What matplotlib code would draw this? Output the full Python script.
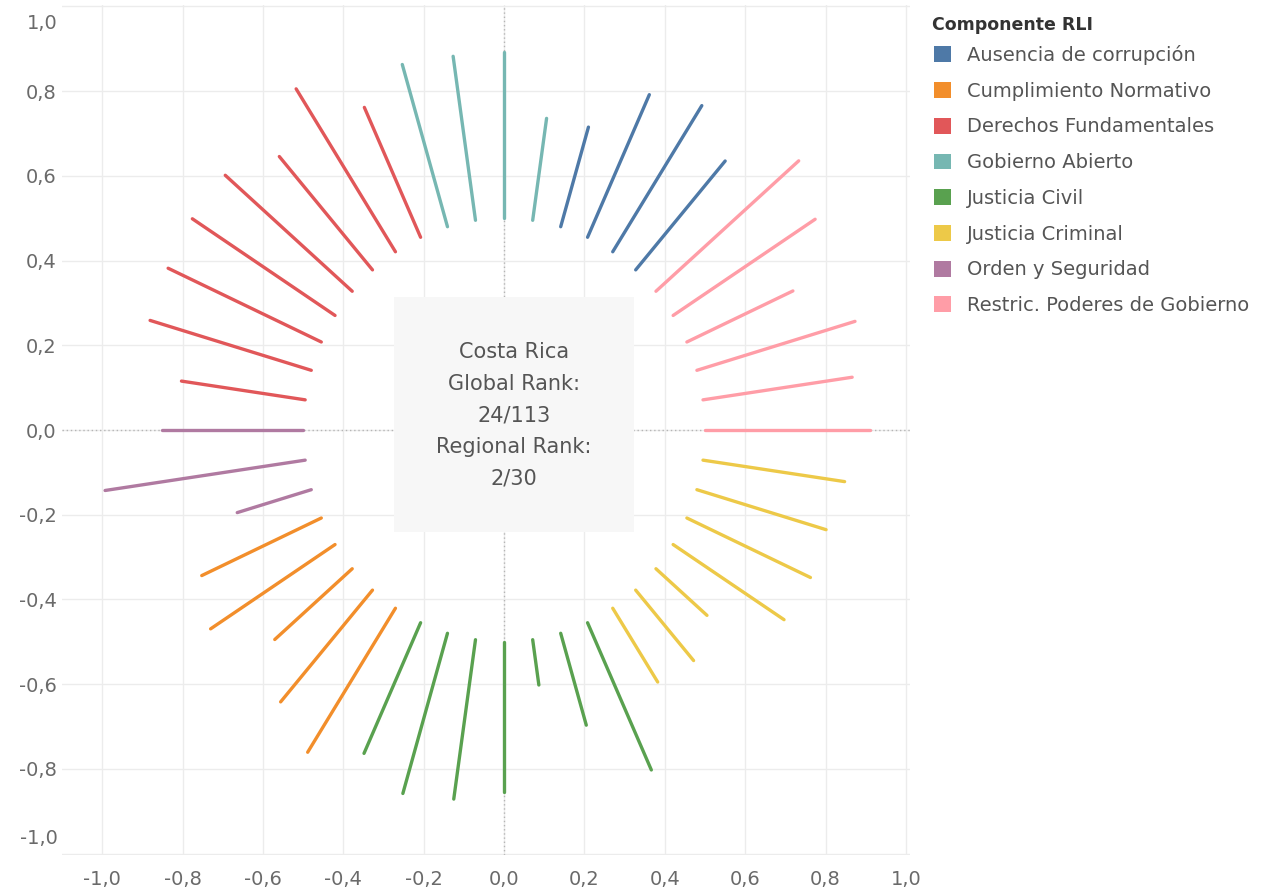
import numpy as np
import matplotlib.pyplot as plt
from matplotlib.patches import Rectangle, Patch
from matplotlib.ticker import FuncFormatter

plt.rcParams['font.family'] = ['DejaVu Sans']

# componentes del RLI, en orden antihorario desde 0 grados
componentes = ["Restric. Poderes de Gobierno", "Ausencia de corrupción", "Gobierno Abierto",
               "Derechos Fundamentales", "Orden y Seguridad", "Cumplimiento Normativo",
               "Justicia Civil", "Justicia Criminal"]
colores = {"Ausencia de corrupción": "#4e79a7", "Cumplimiento Normativo": "#f28e2b",
           "Derechos Fundamentales": "#e15759", "Gobierno Abierto": "#76b7b2",
           "Justicia Civil": "#59a14f", "Justicia Criminal": "#edc948",
           "Orden y Seguridad": "#b07aa1", "Restric. Poderes de Gobierno": "#ff9da7"}

restric = [0.41, 0.375, 0.41, 0.29, 0.42, 0.47]
corrupcion = [0.34, 0.41, 0.37, 0.245]
gobierno = [0.243, 0.392, 0.391, 0.399]
derechos = [0.337, 0.457, 0.354, 0.418, 0.422, 0.419, 0.418, 0.311]
orden = [0.352, 0.503, 0.192]
cumplimiento = [0.327, 0.368, 0.255, 0.349, 0.404]
civil = [0.339, 0.394, 0.38, 0.355, 0.108, 0.226, 0.382]
criminal = [0.207, 0.22, 0.168, 0.328, 0.338, 0.335, 0.356]

valores = [restric, corrupcion, gobierno, derechos, orden, cumplimiento, civil, criminal]
radio_int = 0.5

fig = plt.figure(figsize=(12.69, 8.94), dpi=100)
ax = fig.add_axes([62 / 1269, 39 / 894, 848 / 1269, 850 / 894])

total = sum(len(v) for v in valores)
k = 0
for comp, vals in zip(componentes, valores):
    for v in vals:
        th = 2 * np.pi * k / total
        r = np.array([radio_int, radio_int + v])
        ax.plot(r * np.cos(th), r * np.sin(th),
                color=colores[comp], lw=2.4, solid_capstyle='round', zorder=4)
        k += 1

# caja central
ax.add_patch(Rectangle((-0.273, -0.241), 0.596, 0.555, facecolor='#f7f7f7',
                       edgecolor='none', zorder=3))
ax.text(0.025, 0.035, "Costa Rica\nGlobal Rank:\n24/113\nRegional Rank:\n2/30",
        ha='center', va='center', fontsize=15, color='#555555', linespacing=1.72, zorder=5)

ax.axhline(0, color='#b5b5b5', lw=1, ls=(0, (1, 2)), zorder=2)
ax.axvline(0, color='#b5b5b5', lw=1, ls=(0, (1, 2)), zorder=2)

ax.set_xlim(-1.1, 1.01)
ax.set_ylim(-1.003, 1.003)
ticks = np.round(np.arange(-1, 1.01, 0.2), 1) + 0.0
ax.set_xticks(ticks)
ax.set_yticks(ticks)
fmt = FuncFormatter(lambda v, _: f"{v:.1f}".replace('.', ','))
ax.xaxis.set_major_formatter(fmt)
ax.yaxis.set_major_formatter(FuncFormatter(
    lambda v, _: "" if abs(v) > 0.99 else f"{v:.1f}".replace('.', ',')))
ax.tick_params(length=0, labelsize=14, labelcolor='#6a6a6a')
ax.tick_params(axis='x', pad=11)
ax.tick_params(axis='y', pad=4)
# etiquetas extremas del eje y desplazadas hacia dentro, como en Tableau
for yv, dy in [(1.0, -17), (-1.0, 15)]:
    ax.annotate(fmt(yv, None), xy=(0, yv), xycoords=ax.get_yaxis_transform(),
                xytext=(-4, dy), textcoords='offset pixels', ha='right', va='center',
                fontsize=14, color='#6a6a6a')
ax.grid(color='#ececec', lw=1, zorder=0)
ax.set_axisbelow(True)
for s in ax.spines.values():
    s.set_visible(False)

# leyenda (título aparte para controlar el espacio)
fig.text(932 / 1269, 1 - 25 / 894, "Componente RLI", ha='left', va='center',
         fontsize=12.5, fontweight='bold', color='#333333')
orden_leyenda = sorted(componentes)
handles = [Patch(facecolor=colores[c], edgecolor='none') for c in orden_leyenda]
leg = fig.legend(handles, orden_leyenda, loc='upper left',
                 bbox_to_anchor=(934 / 1269, 1 - 45 / 894), frameon=False,
                 fontsize=14, handlelength=0.88, handleheight=0.88,
                 labelspacing=0.86, handletextpad=0.82, borderaxespad=0, borderpad=0)
for t in leg.get_texts():
    t.set_color('#555555')

fig.savefig("out.png", dpi=100)
